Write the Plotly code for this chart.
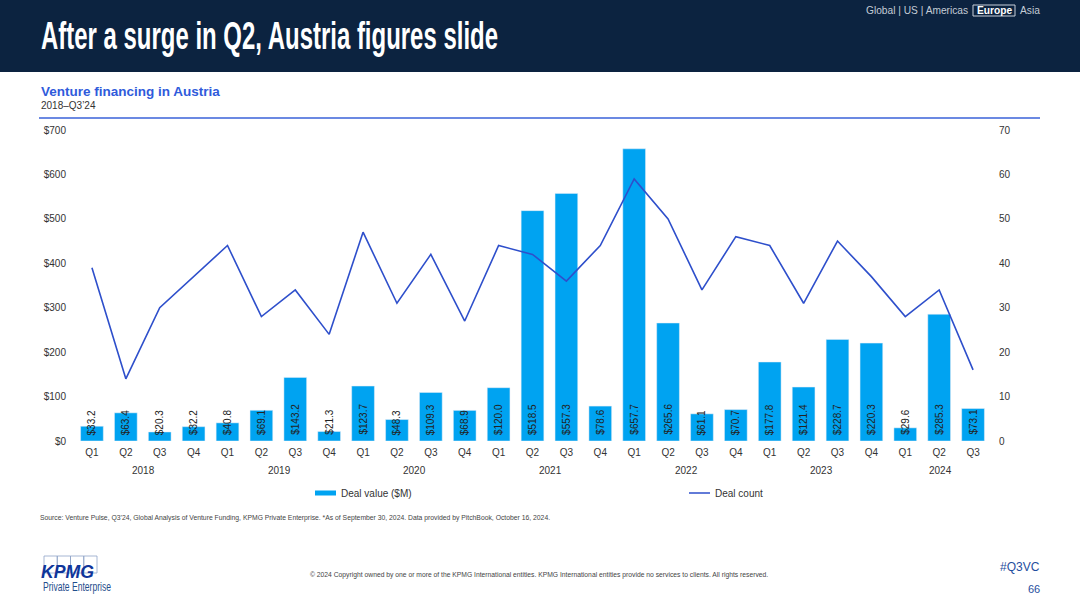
import plotly.graph_objects as go

quarters = ["Q1", "Q2", "Q3", "Q4", "Q1", "Q2", "Q3", "Q4", "Q1", "Q2", "Q3", "Q4", "Q1", "Q2",
            "Q3", "Q4", "Q1", "Q2", "Q3", "Q4", "Q1", "Q2", "Q3", "Q4", "Q1", "Q2", "Q3"]
deal_value = [33.2, 63.4, 20.3, 32.2, 40.8, 69.1, 143.2, 21.3, 123.7, 48.3, 109.3, 68.9, 120.0, 518.5,
              557.3, 78.6, 657.7, 265.6, 61.1, 70.7, 177.8, 121.4, 228.7, 220.3, 29.6, 285.3, 73.1]
deal_count = [39, 14, 30, 37, 44, 28, 34, 24, 47, 31, 42, 27, 44, 42,
              36, 44, 59, 50, 34, 46, 44, 31, 45, 37, 28, 34, 16]
years = ["2018", "2019", "2020", "2021", "2022", "2023", "2024"]
year_centers = [1.5, 5.5, 9.5, 13.5, 17.5, 21.5, 25]
left_ticks = [0, 100, 200, 300, 400, 500, 600, 700]
left_labels = ["$0", "$100", "$200", "$300", "$400", "$500", "$600", "$700"]
right_ticks = [0, 10, 20, 30, 40, 50, 60, 70]

FONT = "Liberation Sans"
NAVY = "#0C2340"
BLUE = "#00A3F1"
LINE = "#2E4FCB"
TEXT = "#333333"
W, H = 1080, 607


def px_x(v):
    return v / W


def px_y(v):
    return 1 - v / H


idx = list(range(len(quarters)))
fig = go.Figure()
fig.add_bar(x=idx, y=deal_value, name="Deal value ($M)", marker_color=BLUE, showlegend=False,
            hovertemplate="%{y:$.1f}M<extra></extra>")
# legend entry for the bars, drawn as a flat swatch
fig.add_scatter(x=[None], y=[None], mode="lines", name="Deal value ($M)", line=dict(color=BLUE, width=5),
                legend="legend")
fig.add_scatter(x=idx, y=deal_count, mode="lines", name="Deal count", yaxis="y2",
                line=dict(color=LINE, width=1.6), legend="legend2")

legend_style = dict(orientation="h", yanchor="middle", xanchor="left", font=dict(size=10, color=TEXT),
                    bgcolor="rgba(0,0,0,0)")
fig.update_layout(
    width=W, height=H, margin=dict(l=0, r=0, t=0, b=0, autoexpand=False), autosize=False,
    paper_bgcolor="white", plot_bgcolor="white",
    font=dict(family=FONT, size=10, color=TEXT),
    bargap=0.33, showlegend=True,
    legend=dict(x=px_x(301), y=px_y(493), **legend_style),
    legend2=dict(x=px_x(675), y=px_y(493), **legend_style),
    xaxis=dict(domain=[px_x(75), px_x(990)], tickmode="array", tickvals=idx, ticktext=quarters,
               range=[-0.5, 26.5], showgrid=False, zeroline=False, showline=False, ticks="",
               ticklabelstandoff=4, tickfont=dict(size=10, color=TEXT)),
    yaxis=dict(domain=[px_y(441), px_y(130)], range=[0, 700], tickmode="array", tickvals=left_ticks,
               ticktext=left_labels, showgrid=False, zeroline=False, showline=False, ticks="",
               ticklabelstandoff=8, tickfont=dict(size=10, color=TEXT)),
    yaxis2=dict(overlaying="y", side="right", anchor="x", range=[0, 70], tickvals=right_ticks,
                showgrid=False, zeroline=False, showline=False, ticks="",
                ticklabelstandoff=8, tickfont=dict(size=10, color=TEXT)),
)

shapes = [
    dict(type="rect", xref="paper", yref="paper", x0=0, x1=1, y0=px_y(72), y1=1,
         fillcolor=NAVY, line_width=0, layer="below"),
    dict(type="line", xref="paper", yref="paper", x0=px_x(39), x1=px_x(1040), y0=px_y(118), y1=px_y(118),
         line=dict(color="#3A62D8", width=1.5)),
    dict(type="rect", xref="paper", yref="paper", x0=px_x(973), x1=px_x(1015), y0=px_y(16), y1=px_y(5),
         line=dict(color="#C8D0DA", width=1)),
]
# KPMG logo boxes
for i in range(4):
    shapes.append(dict(type="rect", xref="paper", yref="paper", x0=px_x(44 + i * 13.25), x1=px_x(57.25 + i * 13.25),
                       y0=px_y(573), y1=px_y(556), line=dict(color="#8FA3C8", width=0.8)))
fig.update_layout(shapes=shapes)


def note(text, x, y, size, color=TEXT, anchor="left", family=FONT, bold=False):
    # annotation boxes carry about 2px of padding
    pad = {"left": -2, "right": 2, "center": 0}[anchor]
    fig.add_annotation(xref="paper", yref="paper", x=px_x(x + pad), y=px_y(y),
                       text=f"<b>{text}</b>" if bold else text,
                       showarrow=False, xanchor=anchor, yanchor="middle", align=anchor,
                       font=dict(size=size, color=color, family=family))


note("After a surge in Q2, Austria figures slide", 41, 36, 38, "white", bold=True)
note("Global | US | Americas", 866, 10.5, 10.2, "#C4CCD6")
note("Europe", 994, 10.5, 10.2, "white", "center", bold=True)
note("Asia", 1020, 10.5, 10.2, "#C4CCD6")
note("Venture financing in Austria", 41, 91, 13.5, "#2F5BDB", bold=True)
note("2018–Q3’24", 41, 105, 10, "#333333")
note("Source: Venture Pulse, Q3’24, Global Analysis of Venture Funding, KPMG Private Enterprise. *As of September 30, 2024. "
     "Data provided by PitchBook, October 16, 2024.", 40, 518, 6.8, "#444444")
note("© 2024 Copyright owned by one or more of the KPMG International entities. KPMG International entities provide "
     "no services to clients. All rights reserved.", 310, 574.5, 6.76, "#444444")
note("#Q3VC", 1040, 566.5, 12, "#1F4E9E", "right")
note("66", 1040, 589, 11, "#1F4E9E", "right")
note("<i>KPMG</i>", 41, 572, 18, "#0F359A", bold=True)
note("Private Enterprise", 43, 587, 12, "#1F4E8C")

for year, center in zip(years, year_centers):
    fig.add_annotation(xref="x", yref="paper", x=center, y=px_y(471), xshift=1, text=year, showarrow=False,
                       xanchor="center", yanchor="middle", font=dict(size=10, color=TEXT))

# value labels sit at a fixed height above the bar base, whatever the bar size
for i, v in zip(idx, deal_value):
    fig.add_annotation(x=i, y=0, yshift=4, text=f"${v:.1f}", textangle=-90, showarrow=False,
                       xanchor="center", yanchor="bottom", font=dict(size=10, color="#222222"))

# no condensed face is installed, so squeeze the glyphs of these texts;
# legend swatches are shortened to the length of the original
post = """
document.body.style.margin = '0';
var widths = {'After a surge': 457, 'Private Enterprise': 68, 'KPMG': 53};
document.querySelectorAll('text.annotation-text').forEach(function (t) {
  Object.keys(widths).forEach(function (k) {
    if (t.textContent.indexOf(k) === 0) {
      t.setAttribute('textLength', widths[k]);
      t.setAttribute('lengthAdjust', 'spacingAndGlyphs');
    }
  });
});
document.querySelectorAll('.legendlines path').forEach(function (p) {
  p.setAttribute('d', 'M14,0h21');
});
"""
fig.write_html("out.html", post_script=post, config={"displayModeBar": False})
